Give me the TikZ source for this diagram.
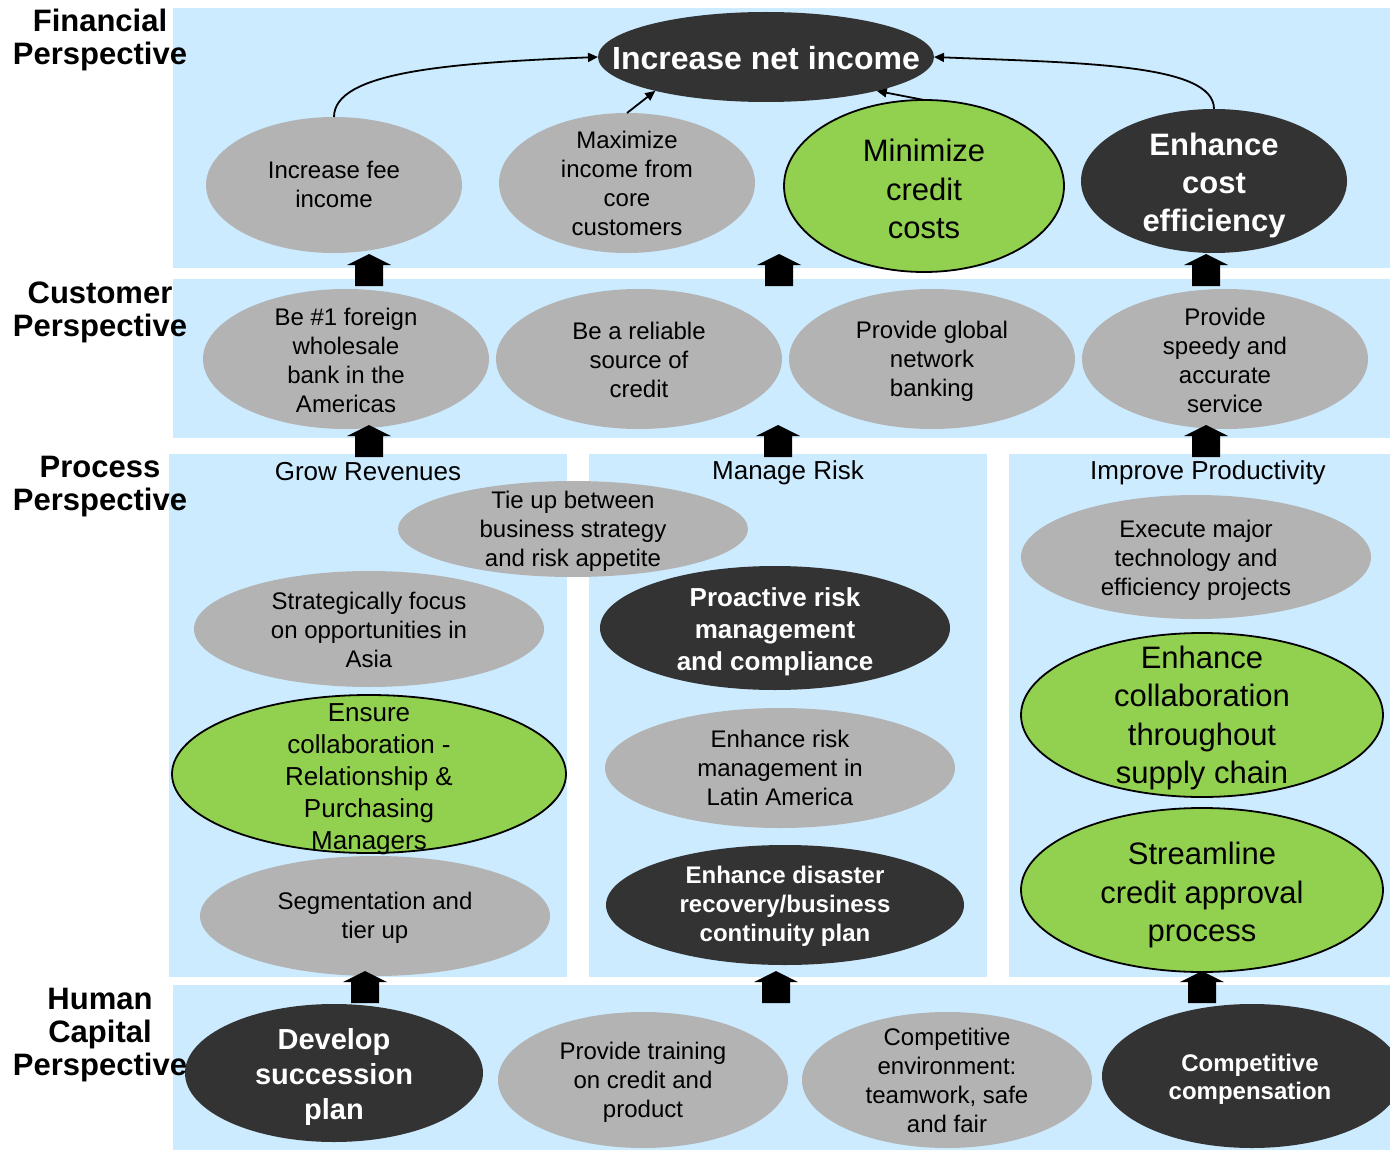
\documentclass[tikz,border=0pt]{standalone}
\usepackage{fontspec}
\setmainfont{Liberation Sans}
\usetikzlibrary{shapes.geometric,arrows.meta}

\definecolor{bandblue}{HTML}{CCEBFF}
\definecolor{ovgray}{HTML}{B3B3B3}
\definecolor{ovdark}{HTML}{333333}
\definecolor{ovgreen}{HTML}{92D050}

\newcommand\fsz[2]{\fontsize{#1}{#2}\selectfont}

\tikzset{
  band/.style={fill=bandblue, draw=none},
  ov/.style={ellipse, inner sep=0pt, outer sep=0pt},
  ovg/.style={ov, fill=ovgray},
  ovd/.style={ov, fill=ovdark},
  ovgr/.style={ov, fill=ovgreen, draw=black, line width=1.8pt},
  tx/.style={align=center, inner sep=0pt, text=black, font=\fsz{24}{29}},
  txw/.style={align=center, inner sep=0pt, text=white},
  title/.style={inner sep=0pt, font=\fsz{26}{30}},
  persp/.style={align=center, inner sep=0pt, font=\bfseries\fsz{31}{33}},
  conn/.style={line width=1.8pt, -{Triangle[length=10pt,width=9pt]}},
  blockup/.pic={
    \fill[black] (-14,0) -- (14,0) -- (14,-21) -- (22,-21) -- (0,-32)
      -- (-22,-21) -- (-14,-21) -- cycle;
  }
}

\begin{document}
\begin{tikzpicture}[x=1pt,y=-1pt]
\useasboundingbox (0,0) rectangle (1390,1153);
\clip (0,0) rectangle (1390,1153);

% perspective bands
\fill[band] (173,8) rectangle (1390,268);
\fill[band] (173,279) rectangle (1390,438);
\fill[band] (169,454) rectangle (567,977);
\fill[band] (589,454) rectangle (987,977);
\fill[band] (1009,454) rectangle (1390,977);
\fill[band] (173,985) rectangle (1390,1150);

% process column titles
\node[title] (grow) at (368,472) {Grow Revenues};
\node[title] (risk) at (788,473) {Manage Risk};
\node[title] (prod) at (1208,473) {Improve Productivity};

% financial objectives
\node[ovd, minimum width=336, minimum height=90] (net) at (766,57) {};
\node[txw, font=\bfseries\fsz{32}{36}] (net-t) at (766,58) {Increase net income};
\node[ovg, minimum width=256, minimum height=136] (fee) at (334,185) {};
\node[tx] (fee-t) at (334,184) {Increase fee\\income};
\node[ovg, minimum width=256, minimum height=140] (maxi) at (627,183) {};
\node[tx] (maxi-t) at (627,183) {Maximize\\income from\\core\\customers};
\node[ovgr, minimum width=280, minimum height=172] (mini) at (924,186) {};
\node[tx, font=\fsz{31}{38.5}] (mini-t) at (924,189) {Minimize\\credit\\costs};
\node[ovd, minimum width=266, minimum height=144] (ecost) at (1214,181) {};
\node[txw, font=\bfseries\fsz{31}{38}] (ecost-t) at (1214,185) {Enhance\\cost\\efficiency};

% customer objectives
\node[ovg, minimum width=286, minimum height=140] (first) at (346,359) {};
\node[tx] (first-t) at (346,360) {Be \#1 foreign\\wholesale\\bank in the\\Americas};
\node[ovg, minimum width=286, minimum height=140] (reli) at (639,359) {};
\node[tx] (reli-t) at (639,360) {Be a reliable\\source of\\credit};
\node[ovg, minimum width=286, minimum height=140] (glob) at (932,359) {};
\node[tx] (glob-t) at (932,361) {Provide global\\network\\banking};
\node[ovg, minimum width=286, minimum height=140] (speed) at (1225,359) {};
\node[tx] (speed-t) at (1225,360) {Provide\\speedy and\\accurate\\service};

% process: grow revenues
\node[ovg, minimum width=350, minimum height=96] (tie) at (573,529) {};
\node[tx] (tie-t) at (573,531) {Tie up between\\business strategy\\and risk appetite};
\node[ovg, minimum width=350, minimum height=116] (focus) at (369,629) {};
\node[tx] (focus-t) at (369,630) {Strategically focus\\on opportunities in\\Asia};
\node[ovgr, minimum width=394, minimum height=158] (ensure) at (369,774) {};
\node[tx, font=\fsz{26}{32}] (ensure-t) at (369,779) {Ensure\\collaboration -\\Relationship \&\\Purchasing\\Managers};
\node[ovg, minimum width=350, minimum height=120] (seg) at (375,916) {};
\node[tx] (seg-t) at (375,918) {Segmentation and\\tier up};

% process: manage risk
\node[ovd, minimum width=350, minimum height=124] (proact) at (775,628) {};
\node[txw, font=\bfseries\fsz{26}{32}] (proact-t) at (775,632) {Proactive risk\\management\\and compliance};
\node[ovg, minimum width=350, minimum height=120] (erisk) at (780,768) {};
\node[tx] (erisk-t) at (780,768) {Enhance risk\\management in\\Latin America};
\node[ovd, minimum width=358, minimum height=120] (disast) at (785,905) {};
\node[txw, font=\bfseries\fsz{24}{29}] (disast-t) at (785,906) {Enhance disaster\\recovery/business\\continuity plan};

% process: improve productivity
\node[ovg, minimum width=350, minimum height=124] (exec) at (1196,557) {};
\node[tx] (exec-t) at (1196,560) {Execute major\\technology and\\efficiency projects};
\node[ovgr, minimum width=362, minimum height=164] (ecollab) at (1202,715) {};
\node[tx, font=\fsz{31}{38.5}] (ecollab-t) at (1202,718) {Enhance\\collaboration\\throughout\\supply chain};
\node[ovgr, minimum width=362, minimum height=164] (stream) at (1202,890) {};
\node[tx, font=\fsz{31}{38.5}] (stream-t) at (1202,895) {Streamline\\credit approval\\process};

% human capital objectives
\node[ovd, minimum width=298, minimum height=138] (succ) at (334,1073) {};
\node[txw, font=\bfseries\fsz{29}{35}] (succ-t) at (334,1077) {Develop\\succession\\plan};
\node[ovg, minimum width=290, minimum height=136] (train) at (643,1080) {};
\node[tx] (train-t) at (643,1082) {Provide training\\on credit and\\product};
\node[ovg, minimum width=290, minimum height=136] (env) at (947,1080) {};
\node[tx] (env-t) at (947,1080) {Competitive\\environment:\\teamwork, safe\\and fair};
\node[ovd, minimum width=300, minimum height=144] (comp) at (1252,1076) {};
\node[txw, font=\bfseries\fsz{24}{28}] (comp-t) at (1250,1079) {Competitive\\compensation};

% links into the top objective
\draw[conn] (fee.north) .. controls +(0,-45) and +(-150,6) .. (net.west);
\draw[conn] (ecost.north) .. controls +(0,-45) and +(150,6) .. (net.east);
\draw[conn] (maxi.north) -- (net.197);
\draw[conn] (mini.north) -- (net.343);

% block arrows between perspectives
\pic at (369,286) {blockup};
\pic at (779,286) {blockup};
\pic at (1206,286) {blockup};
\pic at (369,457) {blockup};
\pic at (778,457) {blockup};
\pic at (1206,457) {blockup};
\pic at (365,1003) {blockup};
\pic at (776,1003) {blockup};
\pic at (1202,1003) {blockup};

% perspective labels
\node[persp] (p-fin) at (100,40) {Financial\\Perspective};
\node[persp] (p-cus) at (100,312) {Customer\\Perspective};
\node[persp] (p-pro) at (100,487) {Process\\Perspective};
\node[persp] (p-hum) at (100,1035) {Human\\Capital\\Perspective};
\end{tikzpicture}
\end{document}
